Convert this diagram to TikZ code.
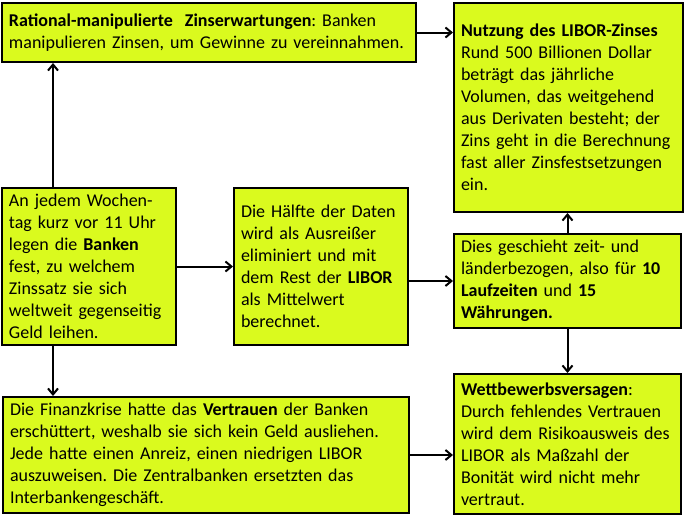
\documentclass[tikz,border=0pt]{standalone}
\usepackage{fontspec}
\setmainfont{Carlito}
\usetikzlibrary{arrows.meta}
\definecolor{boxgreen}{RGB}{218,250,30}
\frenchspacing
\begin{document}
\begin{tikzpicture}[x=1pt,y=-1pt,>={Straight Barb[length=6pt,width=10pt]},
  box/.style={draw,line width=2pt,fill=boxgreen,anchor=north west,align=left,
    inner xsep=7pt,inner ysep=4pt,font=\fontsize{18}{22}\selectfont},
  link/.style={->,line width=2pt}]
\useasboundingbox (0,0) rectangle (685,514);
\node[box,text width=215pt,minimum height=209pt] (nutz) at (453,2)
  {\textbf{Nutzung des LIBOR-Zinses}\\Rund 500 Billionen Dollar\\beträgt das jährliche\\Volumen, das weitgehend\\aus Derivaten besteht; der\\Zins geht in die Berechnung\\fast aller Zinsfestsetzungen\\ein.};
\node[box,text width=400pt,minimum height=59pt] (rat) at (1,2)
  {\textbf{Rational-manipulierte\ \ Zinserwartungen}: Banken\\manipulieren Zinsen, um Gewinne zu vereinnahmen.};
\node[box,text width=160pt,minimum height=157pt] (woche) at (1,187)
  {An jedem Wochen-\\tag kurz vor 11 Uhr\\legen die \textbf{Banken}\\fest, zu welchem\\Zinssatz sie sich\\weltweit gegenseitig\\Geld leihen.};
\node[box,text width=160pt,minimum height=157pt] (haelfte) at (233,187)
  {Die Hälfte der Daten\\wird als Ausreißer\\eliminiert und mit\\dem Rest der \textbf{LIBOR}\\als Mittelwert\\berechnet.};
\node[box,text width=213pt,minimum height=94pt] (zeit) at (453,233)
  {Dies geschieht zeit- und\\länderbezogen, also für \textbf{10}\\\textbf{Laufzeiten} und \textbf{15}\\\textbf{Währungen.}};
\node[box,text width=213pt,minimum height=140pt] (wett) at (453,373)
  {\textbf{Wettbewerbsversagen}:\\Durch fehlendes Vertrauen\\wird dem Risikoausweis des\\LIBOR als Maßzahl der\\Bonität wird nicht mehr\\vertraut.};
\node[box,text width=392pt,minimum height=116pt] (krise) at (2,396)
  {Die Finanzkrise hatte das \textbf{Vertrauen} der Banken\\erschüttert, weshalb sie sich kein Geld ausliehen.\\Jede hatte einen Anreiz, einen niedrigen LIBOR\\auszuweisen. Die Zentralbanken ersetzten das\\Interbankengeschäft.};
\coordinate (lcol) at (53,0);
\draw[link] (rat.east)--(nutz.west|-rat.east);
\draw[link] (woche.north-|lcol)--(rat.south-|lcol);
\draw[link] (woche.south-|lcol)--(krise.north-|lcol);
\draw[link] (woche.east)--(haelfte.west|-woche.east);
\draw[link] (haelfte.east|-zeit.west)--(zeit.west);
\draw[link] (zeit.north)--(nutz.south-|zeit.north);
\draw[link] (zeit.south)--(wett.north-|zeit.south);
\draw[link] (krise.east)--(wett.west|-krise.east);
\end{tikzpicture}
\end{document}
